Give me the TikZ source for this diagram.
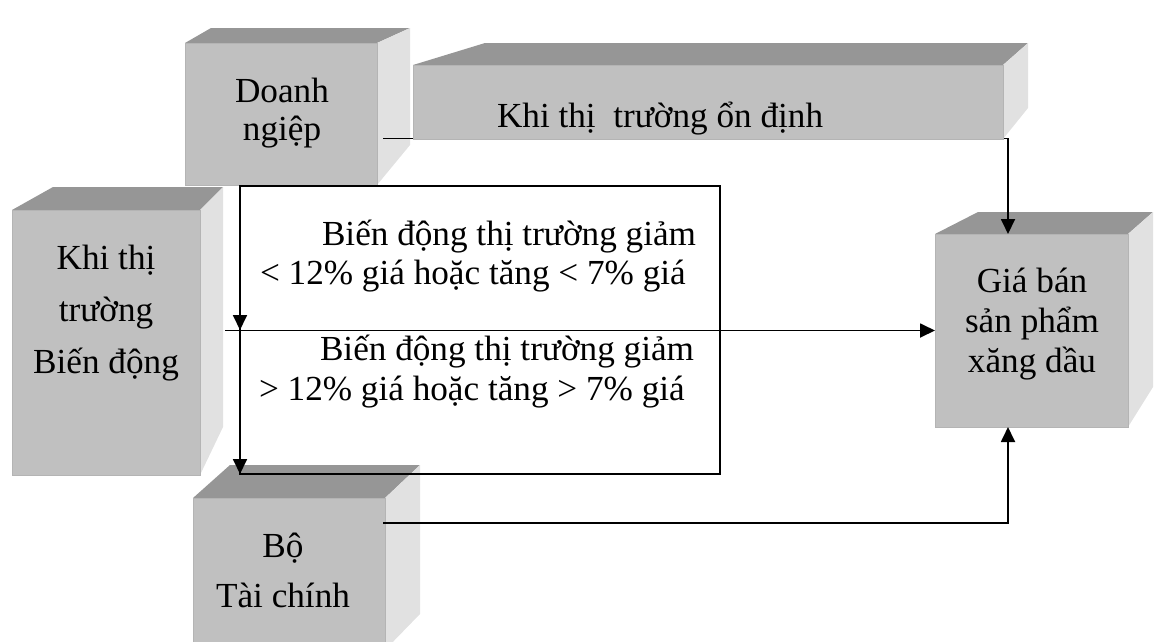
\documentclass[tikz,border=0pt]{standalone}
\usepackage{fontspec}
\setmainfont{Liberation Serif}
\usetikzlibrary{arrows.meta,fit}

\definecolor{facefront}{HTML}{C0C0C0}
\definecolor{facetop}{HTML}{969696}
\definecolor{faceside}{HTML}{E1E1E1}
\definecolor{faceedge}{HTML}{B4B4B4}

% A shaded block: front face (named node), top face and right side face.
% #1 name, #2-#5 front x1 y1 x2 y2, #6 back-left x, #7 back top y,
% #8 back right x, #9 back bottom y of the side face
\newcommand\solidbox[9]{%
  \fill[facetop] (#2,#3) -- (#6,#7) -- (#8,#7) -- (#4,#3) -- cycle;
  \fill[faceside] (#4,#3) -- (#8,#7) -- (#8,#9) -- (#4,#5) -- cycle;
  \path (#2,#3) coordinate (#1-nw) (#4,#5) coordinate (#1-se);
  \node[frontface, fit=(#1-nw)(#1-se)] (#1) {};
}

\begin{document}
\begin{tikzpicture}[x=1pt, y=-1pt,
  frontface/.style={fill=facefront, draw=faceedge, line width=0.6pt, inner sep=0pt, outer sep=0pt},
  wire/.style={line width=1.8pt, line join=miter},
  arrowline/.style={wire, -{Triangle[length=15pt, width=14pt]}},
  band/.style={draw, line width=1.8pt, inner sep=0pt, outer sep=0pt, anchor=north west},
  label/.style={inner sep=0pt, outer sep=0pt, font=\fontsize{35.2pt}{#1}\selectfont},
]
\useasboundingbox (0,0) rectangle (1154,641);

% Doanh nghiep
\solidbox{dn}{185}{43}{377}{185}{211}{28}{410}{145}
% retail price block
\solidbox{gb}{935}{234}{1128}{427}{978}{212}{1153}{387}
% line from Doanh nghiep, running behind the long block to the price block
\coordinate (dn-out) at (383,138.5);
\coordinate (gb-in-top) at (1008,234);
\draw[arrowline] (dn-out) -- (dn-out -| gb-in-top) -- (gb-in-top);
% stable market block
\solidbox{od}{413}{65}{1003}{139}{485}{43}{1028}{108}
% volatile market block
\solidbox{bd}{12}{210}{200}{475}{53}{187}{223}{427}
% Ministry of Finance block
\solidbox{tc}{193}{498}{385}{650}{230}{465}{420}{614}

% framed area with the two conditions
\node[band, minimum width=480pt, minimum height=288pt] (band) at (240,186) {};
\draw[arrowline] (band.north west) -- (band.west);
\draw[arrowline] (band.west) -- (band.south west);
\coordinate (bd-out) at (225,330.5);
\draw[arrowline] (bd-out) -- (gb.west);

% line from Bo Tai chinh to the price block
\coordinate (tc-out) at (383,523);
\coordinate (gb-in-bot) at (1008,427);
\draw[arrowline] (tc-out) -- (tc-out -| gb-in-bot) -- (gb-in-bot);

% texts (anchored at the baseline of their last line)
\node[label=38pt, align=center, anchor=base] (t-dn) at (282,140) {Doanh\\ngiệp};
\node[label=40pt, anchor=base west] (t-od) at (497,127) {Khi thị\ \ trường ổn định};
\node[label=52pt, align=center, anchor=base] (t-bd) at (106,373) {Khi thị\\trường\\Biến động};
\node[label=40pt, align=center, anchor=base] (t-gb) at (1032,372) {Giá bán\\sản phẩm\\xăng dầu};
\node[label=50pt, align=center, anchor=base] (t-tc) at (283,607) {Bộ\\Tài chính};
\node[label=39pt, align=left, anchor=base west] (t-low) at (260,284)
  {\hspace*{62pt}Biến động thị trường giảm\\< 12\% giá hoặc tăng < 7\% giá};
\node[label=40pt, align=left, anchor=base west] (t-high) at (259,400)
  {\hspace*{61pt}Biến động thị trường giảm\\> 12\% giá hoặc tăng > 7\% giá};
\end{tikzpicture}
\end{document}
